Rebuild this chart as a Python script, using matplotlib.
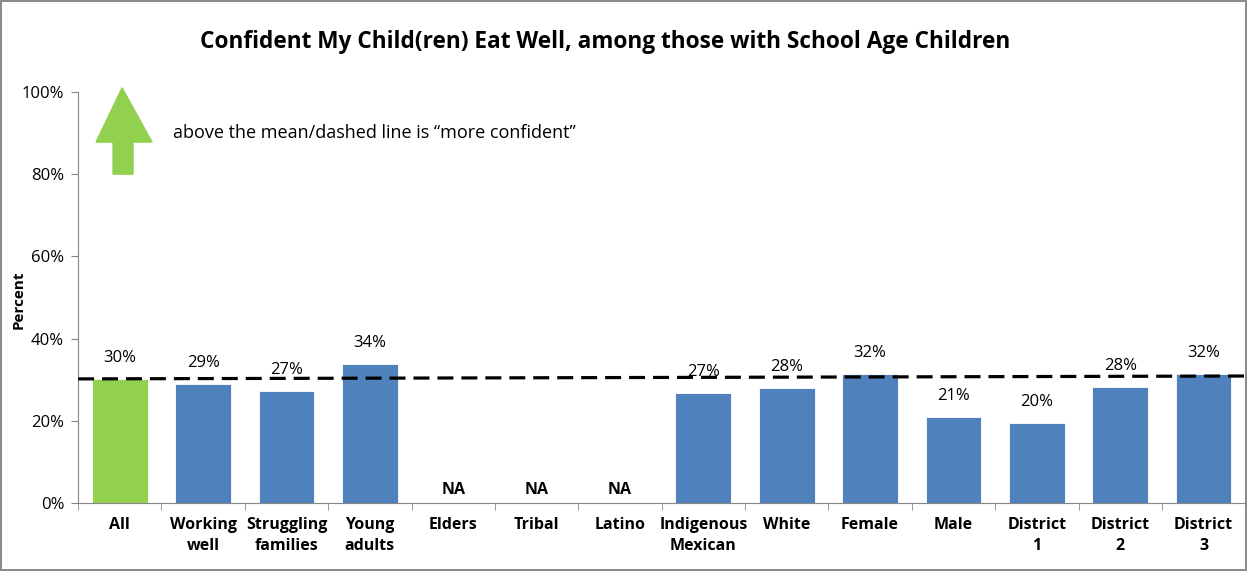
import matplotlib.pyplot as plt
import numpy as np
from matplotlib.patches import Polygon

plt.rcParams['font.family'] = ['Open Sans', 'DejaVu Sans']

categories = ["All", "Working\nwell", "Struggling\nfamilies", "Young\nadults", "Elders",
              "Tribal", "Latino", "Indigenous\nMexican", "White", "Female", "Male",
              "District\n1", "District\n2", "District\n3"]
values = [30.2, 29.0, 27.3, 33.8, np.nan, np.nan, np.nan, 26.8, 28.0, 31.4, 20.9, 19.5, 28.2, 31.4]
labels = ["30%", "29%", "27%", "34%", "NA", "NA", "NA", "27%", "28%", "32%", "21%", "20%", "28%", "32%"]
mean_line = [30.2, 30.9]  # dashed mean line, left end / right end

green = "#92D050"
blue = "#4F81BD"

fig = plt.figure(figsize=(12.47, 5.71), dpi=100)
fig.patch.set_edgecolor("#8c8c8c")
fig.patch.set_linewidth(1.5)
ax = fig.add_axes([0.0626, 0.119, 0.936, 0.72])

x = np.arange(len(categories))
colors = [green] + [blue] * (len(categories) - 1)
heights = np.nan_to_num(values)
ax.bar(x, heights, width=0.67, color=colors, edgecolor="white", linewidth=0.6, zorder=2)

for xi, v, lab in zip(x, values, labels):
    if np.isnan(v):
        ax.annotate(lab, (xi, 0), xytext=(0, 9.5), textcoords="offset points",
                    ha="center", va="center", fontsize=11.5, fontweight="bold")
    else:
        ax.annotate(lab, (xi, v), xytext=(0, 15), textcoords="offset points",
                    ha="center", va="center", fontsize=12)

ax.plot([-0.5, len(categories) - 0.5], mean_line, color="black", linestyle=(0, (5, 2.5)),
        linewidth=2.3, zorder=3)

ax.set_xlim(-0.5, len(categories) - 0.5)
ax.set_ylim(0, 100)
ax.set_yticks(np.arange(0, 101, 20))
ax.set_yticklabels([f"{t}%" for t in range(0, 101, 20)], fontsize=12)
ax.set_xticks(x)
ax.set_xticklabels(categories, fontsize=11.5, fontweight="bold", linespacing=1.4)
ax.set_xticks(np.arange(-0.5, len(categories), 1), minor=True)
ax.tick_params(axis="x", which="major", length=0, pad=10)
ax.tick_params(axis="x", which="minor", length=5, color="#868686")
ax.tick_params(axis="y", length=5, color="#868686", pad=5)
for s in ["top", "right"]:
    ax.spines[s].set_visible(False)
for s in ["left", "bottom"]:
    ax.spines[s].set_color("#868686")
ax.set_ylabel("Percent", fontsize=11, fontweight="bold")
ax.yaxis.set_label_coords(-0.045, 0.494)

fig.suptitle("Confident My Child(ren) Eat Well, among those with School Age Children",
             fontsize=16.3, fontweight="bold", y=0.948, x=0.485)

arrow = Polygon([(0.0377, 1.01), (0.0634, 0.878), (0.0471, 0.878), (0.0471, 0.800),
                 (0.030, 0.800), (0.030, 0.878), (0.0154, 0.878)],
                closed=True, transform=ax.transAxes, color=green, clip_on=False)
ax.add_patch(arrow)
ax.text(0.0814, 0.90, "above the mean/dashed line is \u201cmore confident\u201d",
        transform=ax.transAxes, fontsize=13, va="center", ha="left")

fig.savefig("out.png", dpi=100)
